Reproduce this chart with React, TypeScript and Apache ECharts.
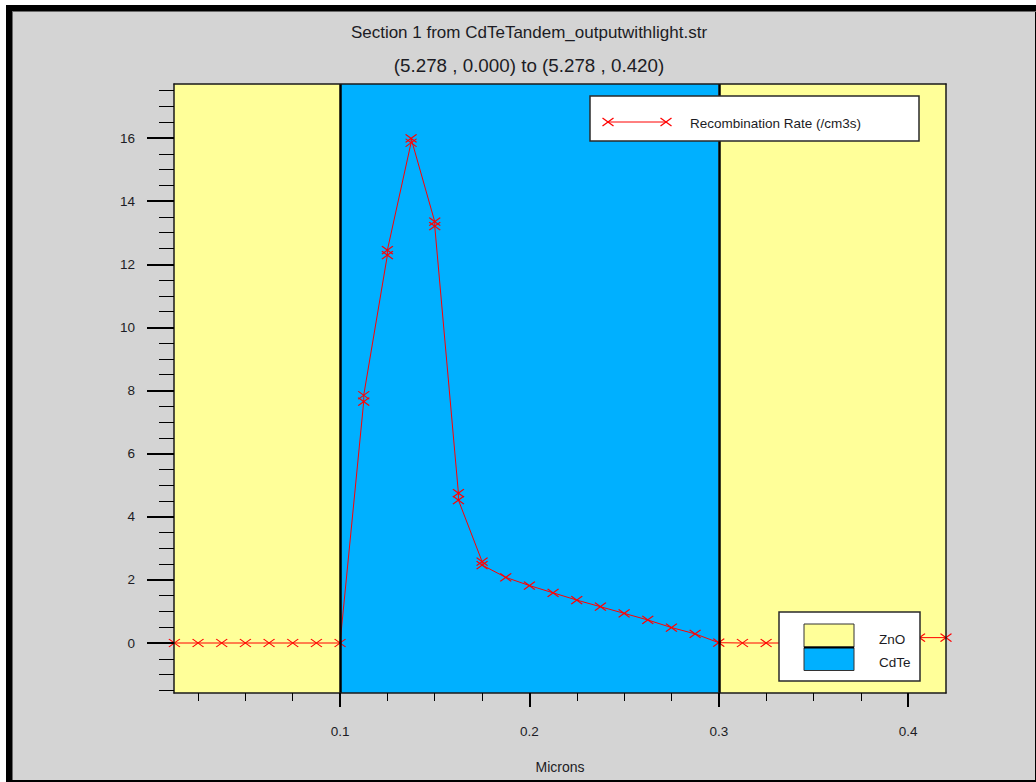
import React, { useEffect, useRef } from "react";
import * as echarts from "echarts";

const titleText = "Section 1 from CdTeTandem_outputwithlight.str";
const subtitleText = "(5.278 , 0.000) to (5.278 , 0.420)";
const seriesName = "Recombination Rate (/cm3s)";
const xAxisName = "Microns";

// position along the cut line (microns)
const xMicrons = [
  0.0125, 0.025, 0.0375, 0.05, 0.0625, 0.075, 0.0875, 0.1,
  0.1125, 0.1125, 0.125, 0.125, 0.1375, 0.1375, 0.15, 0.15,
  0.1625, 0.1625, 0.175, 0.175, 0.1875, 0.2, 0.2125, 0.225,
  0.2375, 0.25, 0.2625, 0.275, 0.2875, 0.3,
  0.3125, 0.325, 0.3375, 0.35, 0.3625, 0.375, 0.3875, 0.4, 0.406, 0.42,
];
// recombination rate values
const recombination = [
  0, 0, 0, 0, 0, 0, 0, 0,
  7.65, 7.85, 12.29, 12.45, 15.85, 15.99, 13.35, 13.21,
  4.75, 4.53, 2.58, 2.47, 2.08, 1.82, 1.59, 1.36,
  1.15, 0.94, 0.73, 0.49, 0.29, 0.01,
  0, 0, 0, 0, 0, 0, 0, 0, 0.17, 0.17,
];

const xRange = [0.0123, 0.42];
const yRange = [-1.584, 17.711];
const xMajorTicks = [0.1, 0.2, 0.3, 0.4];
const xMinorTicks = [0.025, 0.05, 0.075, 0.125, 0.15, 0.175, 0.225, 0.25, 0.275, 0.325, 0.35, 0.375];
const yMajorTicks = [0, 2, 4, 6, 8, 10, 12, 14, 16];
const yMinorTicks = [
  -1.5, -1, -0.5, 0.5, 1, 1.5, 2.5, 3, 3.5, 4.5, 5, 5.5, 6.5, 7, 7.5, 8.5, 9, 9.5,
  10.5, 11, 11.5, 12.5, 13, 13.5, 14.5, 15, 15.5, 16.5, 17, 17.5,
];

const layerNames = ["ZnO", "CdTe", "ZnO"];
const layerBounds = [
  [0.0123, 0.1],
  [0.1, 0.3],
  [0.3, 0.42],
];
const layerInterfaces = [0.1, 0.3];
const legendMaterials = ["ZnO", "CdTe"];

const materialColors: Record<string, string> = { ZnO: "#FFFF99", CdTe: "#00B0FF" };
const FONT = "'Liberation Sans', Arial, sans-serif";
const TEXT = "#1c1c24";
const RED = "#FF0000";

export default function App() {
  const ref = useRef<HTMLDivElement>(null);
  useEffect(() => {
    if (!ref.current) return;
    const chart = echarts.init(ref.current, undefined, { renderer: "svg" });
    const data = xMicrons.map((x, i) => [x, recombination[i]]);
    const axisCommon = { z: 10, splitLine: { show: false } };
    const xMark = (cx: number, cy: number) => [
      { type: "line", z: 101, shape: { x1: cx - 5.5, y1: cy - 4, x2: cx + 5.5, y2: cy + 4 }, style: { stroke: RED, lineWidth: 1.2 } },
      { type: "line", z: 101, shape: { x1: cx - 5.5, y1: cy + 4, x2: cx + 5.5, y2: cy - 4 }, style: { stroke: RED, lineWidth: 1.2 } },
    ];
    chart.setOption({
      animation: false,
      backgroundColor: "#ffffff",
      textStyle: { fontFamily: FONT },
      title: [
        { text: titleText, left: 529, top: 24, textAlign: "center", padding: 0, textStyle: { fontSize: 17, fontWeight: "normal", color: TEXT, fontFamily: FONT } },
        { text: subtitleText, left: 529, top: 56, textAlign: "center", padding: 0, textStyle: { fontSize: 18.8, fontWeight: "normal", color: TEXT, fontFamily: FONT } },
      ],
      grid: { left: 174, top: 84, width: 772, height: 609, containLabel: false },
      xAxis: [
        {
          ...axisCommon,
          type: "value",
          position: "bottom",
          min: xRange[0],
          max: xRange[1],
          name: xAxisName,
          nameLocation: "middle",
          nameGap: 67,
          nameTextStyle: { fontSize: 14, color: TEXT, fontFamily: FONT },
          axisLine: { show: true, onZero: false, lineStyle: { color: "#1a1a1a", width: 1.5 } },
          axisTick: { show: true, customValues: xMajorTicks, length: 14, lineStyle: { color: "#000", width: 2 } },
          axisLabel: { show: true, customValues: xMajorTicks, margin: 31, fontSize: 13.5, color: TEXT, fontFamily: FONT, formatter: (v: number) => v.toFixed(1) },
        },
        {
          ...axisCommon,
          type: "value",
          position: "bottom",
          min: xRange[0],
          max: xRange[1],
          axisLine: { show: false, onZero: false },
          axisTick: { show: true, customValues: xMinorTicks, length: 8, lineStyle: { color: "#000", width: 1 } },
          axisLabel: { show: false },
        },
        {
          ...axisCommon,
          type: "value",
          position: "top",
          min: xRange[0],
          max: xRange[1],
          axisLine: { show: true, onZero: false, lineStyle: { color: "#1a1a1a", width: 1.5 } },
          axisTick: { show: false },
          axisLabel: { show: false },
        },
      ],
      yAxis: [
        {
          ...axisCommon,
          type: "value",
          position: "left",
          min: yRange[0],
          max: yRange[1],
          axisLine: { show: true, onZero: false, lineStyle: { color: "#1a1a1a", width: 1.5 } },
          axisTick: { show: true, customValues: yMajorTicks, length: 27, lineStyle: { color: "#000", width: 2 } },
          axisLabel: { show: true, customValues: yMajorTicks, margin: 39, fontSize: 13.5, color: TEXT, fontFamily: FONT },
        },
        {
          ...axisCommon,
          type: "value",
          position: "left",
          min: yRange[0],
          max: yRange[1],
          axisLine: { show: false, onZero: false },
          axisTick: { show: true, customValues: yMinorTicks, length: 15, lineStyle: { color: "#000", width: 1 } },
          axisLabel: { show: false },
        },
        {
          ...axisCommon,
          type: "value",
          position: "right",
          min: yRange[0],
          max: yRange[1],
          axisLine: { show: true, onZero: false, lineStyle: { color: "#1a1a1a", width: 1.5 } },
          axisTick: { show: false },
          axisLabel: { show: false },
        },
      ],
      series: [
        {
          name: seriesName,
          type: "line",
          xAxisIndex: 0,
          yAxisIndex: 0,
          data,
          symbol: "path://M0,0L10,7M10,0L0,7",
          symbolSize: [11, 8],
          showSymbol: true,
          itemStyle: { color: "rgba(0,0,0,0)", borderColor: RED, borderWidth: 1.2 },
          lineStyle: { color: RED, width: 1 },
          emphasis: { disabled: true },
          markArea: {
            silent: true,
            label: { show: false },
            data: layerBounds.map(([a, b], i) => [
              { xAxis: a, itemStyle: { color: materialColors[layerNames[i]] } },
              { xAxis: b },
            ]),
          },
          markLine: {
            silent: true,
            symbol: ["none", "none"],
            label: { show: false },
            lineStyle: { color: "#000", width: 2.5, type: "solid" },
            data: layerInterfaces.map((v) => ({ xAxis: v })),
          },
        },
      ],
      graphic: [
        { type: "rect", z: -20, silent: true, shape: { x: 6, y: 5, width: 1030, height: 777 }, style: { fill: "#000" } },
        { type: "rect", z: -19, silent: true, shape: { x: 12, y: 11, width: 1023, height: 769 }, style: { fill: "#D4D4D4" } },
        { type: "line", z: -18, silent: true, shape: { x1: 12.5, y1: 11, x2: 12.5, y2: 780 }, style: { stroke: "#6a6a6a", lineWidth: 1 } },
        { type: "line", z: -18, silent: true, shape: { x1: 12, y1: 11.5, x2: 1036, y2: 11.5 }, style: { stroke: "#6a6a6a", lineWidth: 1 } },
        // series legend
        { type: "rect", z: 100, silent: true, shape: { x: 590, y: 96, width: 329, height: 45 }, style: { fill: "#ffffff", stroke: "#2a2a2a", lineWidth: 1.5 } },
        { type: "line", z: 101, silent: true, shape: { x1: 608, y1: 122, x2: 666, y2: 122 }, style: { stroke: RED, lineWidth: 1 } },
        ...xMark(608, 122),
        ...xMark(666, 122),
        { type: "text", z: 101, silent: true, x: 690, y: 123, style: { text: seriesName, fontSize: 13.5, fontFamily: FONT, fill: TEXT, verticalAlign: "middle", textAlign: "left" } },
        // material legend
        { type: "rect", z: 100, silent: true, shape: { x: 779, y: 612, width: 141, height: 69 }, style: { fill: "#ffffff", stroke: "#2a2a2a", lineWidth: 1.5 } },
        ...legendMaterials.map((m, i) => ({
          type: "rect", z: 101, silent: true,
          shape: { x: 804, y: 624 + i * 23.5, width: 50, height: 23 },
          style: { fill: materialColors[m], stroke: "#333", lineWidth: 1 },
        })),
        { type: "line", z: 102, silent: true, shape: { x1: 804, y1: 647.5, x2: 854, y2: 647.5 }, style: { stroke: "#000", lineWidth: 2 } },
        ...legendMaterials.map((m, i) => ({
          type: "text", z: 101, silent: true, x: 879, y: 639.5 + i * 23.3,
          style: { text: m, fontSize: 13.5, fontFamily: FONT, fill: TEXT, verticalAlign: "middle", textAlign: "left" },
        })),
      ],
    });
    return () => chart.dispose();
  }, []);
  return <div ref={ref} style={{ position: "fixed", left: 0, top: 0, width: 1036, height: 782 }} />;
}
